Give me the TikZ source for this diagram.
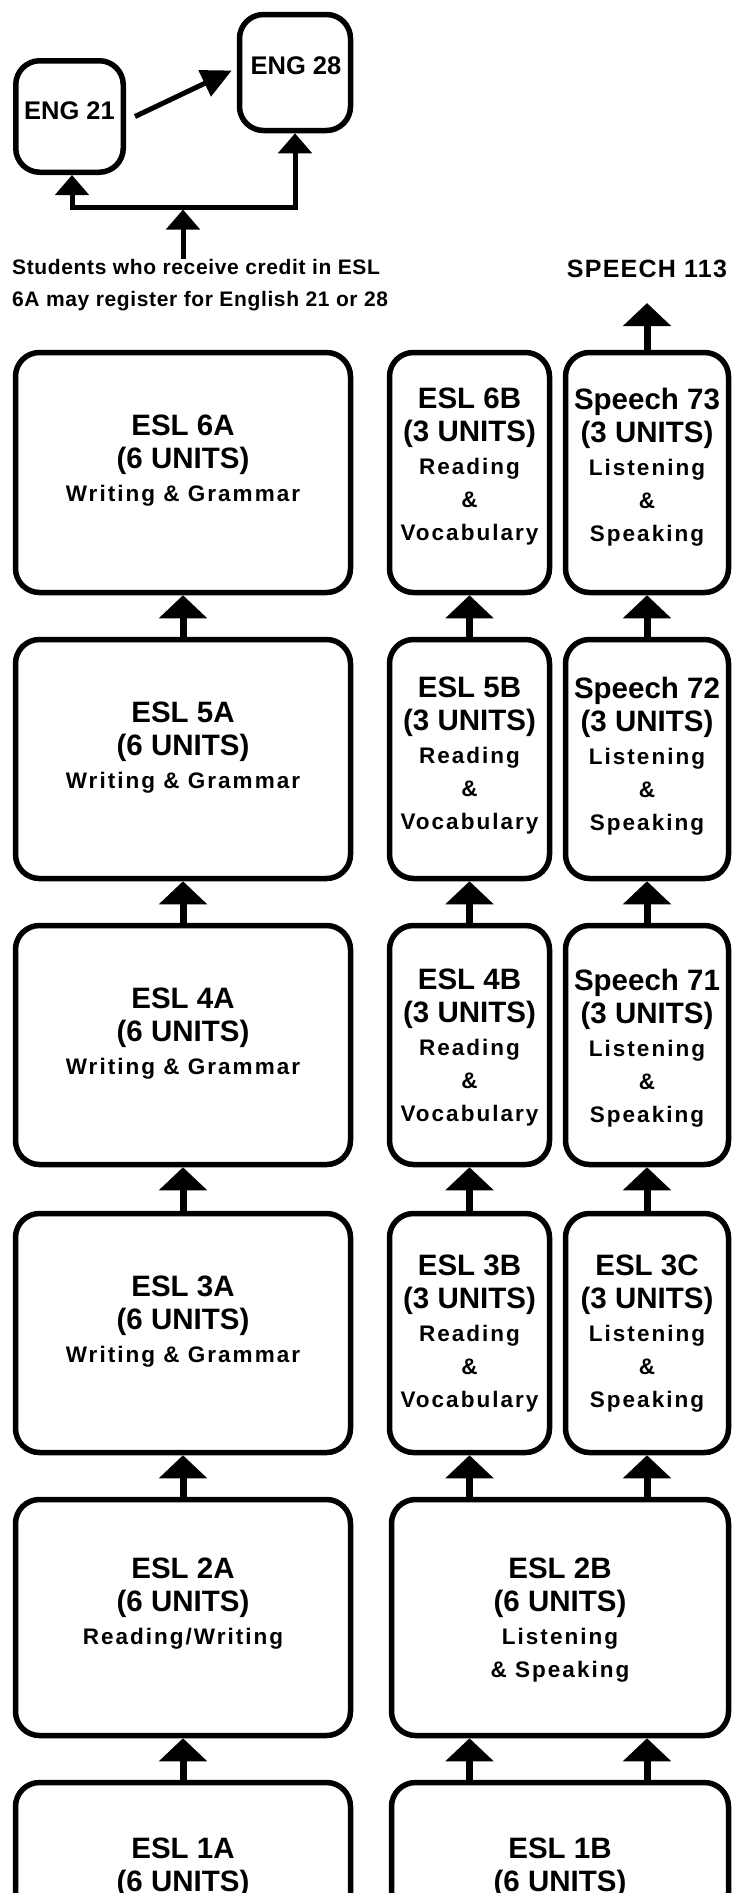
\documentclass[tikz,border=0pt]{standalone}
\usepackage{fontspec}
\setmainfont{Liberation Sans}
\newfontfamily\spacedfont{Liberation Sans}[LetterSpace=9]
\newfontfamily\notefont{Liberation Sans}[LetterSpace=3]
\newfontfamily\spkfont{Liberation Sans}[LetterSpace=5]
\usetikzlibrary{arrows.meta,calc}
\newcommand\ttlf{\rmfamily\fontsize{29.5}{33}\selectfont\bfseries}
\newcommand\subfnt{\spacedfont\fontsize{22.5}{33}\selectfont\bfseries}
\newcommand\engfnt{\rmfamily\fontsize{25.5}{30}\selectfont\bfseries}
\newcommand\notefnt{\notefont\fontsize{21}{32}\selectfont\bfseries}
\newcommand\spkfnt{\spkfont\fontsize{25}{30}\selectfont\bfseries}
\begin{document}
\begin{tikzpicture}[x=1pt,y=-1pt,
  box/.style={draw, line width=5.5pt, rounded corners=24pt, inner sep=0pt},
  lbl/.style={align=center, inner sep=0pt, font=\subfnt, anchor=north},
  up/.style={line width=7pt, -{Triangle[width=47pt,length=23pt]}},
  engup/.style={line width=5pt, -{Triangle[width=33pt,length=20pt]}},
  engarr/.style={line width=5pt, -{Triangle[width=28pt,length=30pt]}},
  bar/.style={line width=5pt, line join=miter, {Triangle[width=33pt,length=20pt]}-{Triangle[width=33pt,length=20pt]}}
]
\useasboundingbox (0,0) rectangle (734,1893);
\fill[white] (0,0) rectangle (734,1893);
\clip (0,0) rectangle (734,1893);

% ---- top: English courses
\node[box, minimum width=107.5pt, minimum height=111.5pt] (e21) at (69.5,116.5) {};
\node[font=\engfnt, inner sep=0pt] (e21t) at ([yshift=5.5pt]e21.center) {ENG 21};
\node[box, minimum width=111pt, minimum height=116pt] (e28) at (295,72.5) {};
\node[font=\engfnt, inner sep=0pt] (e28t) at ([xshift=1pt,yshift=6.5pt]e28.center) {ENG 28};
\draw[engarr] ([xshift=9pt]e21.east) -- ([xshift=-5pt,yshift=2pt]e28.west);

\coordinate (jl) at (72,207);
\coordinate (jr) at (295,207);
\coordinate (jm) at (183,207);
\draw[bar] (jl |- e21.south) -- (jl) -- (jr) -- (jr |- e28.south);

\node[font=\notefnt, align=left, inner sep=0pt, anchor=west] (note) at (12,285)
  {Students who receive credit in ESL\\6A may register for English 21 or 28};
\draw[engup] (jm |- note.north) -- ([yshift=-2.5pt]jm);

\node[font=\spkfnt, inner sep=0pt] (sp) at (647,269) {SPEECH 113};

% ---- boxes
% column A: x=183 w=335 ; B: x=469.5 w=160 ; C: x=647 w=163 ; wide B: x=560 w=337
\node[box, minimum width=335pt, minimum height=240pt] (a6) at (183,472.5) {};
\node[box, minimum width=160pt, minimum height=240pt] (b6) at (469.5,472.5) {};
\node[box, minimum width=163pt, minimum height=240pt] (c6) at (647,472.5) {};
\node[box, minimum width=335pt, minimum height=239pt] (a5) at (183,759) {};
\node[box, minimum width=160pt, minimum height=239pt] (b5) at (469.5,759) {};
\node[box, minimum width=163pt, minimum height=239pt] (c5) at (647,759) {};
\node[box, minimum width=335pt, minimum height=239pt] (a4) at (183,1045) {};
\node[box, minimum width=160pt, minimum height=239pt] (b4) at (469.5,1045) {};
\node[box, minimum width=163pt, minimum height=239pt] (c4) at (647,1045) {};
\node[box, minimum width=335pt, minimum height=239pt] (a3) at (183,1333) {};
\node[box, minimum width=160pt, minimum height=239pt] (b3) at (469.5,1333) {};
\node[box, minimum width=163pt, minimum height=239pt] (c3) at (647,1333) {};
\node[box, minimum width=335pt, minimum height=236pt] (a2) at (183,1617.5) {};
\node[box, minimum width=337pt, minimum height=236pt] (b2) at (560,1617.5) {};
\node[box, minimum width=335pt, minimum height=236pt] (a1) at (183,1900.5) {};
\node[box, minimum width=337pt, minimum height=236pt] (b1) at (560,1900.5) {};

% ---- labels
\node[lbl] (a6t) at ([yshift=-65pt]a6.north) {{\ttlf ESL 6A}\\{\ttlf (6 UNITS)}\\Writing \& Grammar};
\node[lbl] (b6t) at ([yshift=-38pt]b6.north) {{\ttlf ESL 6B}\\{\ttlf (3 UNITS)}\\Reading\\\&\\Vocabulary};
\node[lbl] (c6t) at ([yshift=-38pt]c6.north) {{\ttlf Speech 73}\\{\ttlf (3 UNITS)}\\Listening\\\&\\Speaking};
\node[lbl] (a5t) at ([yshift=-65pt]a5.north) {{\ttlf ESL 5A}\\{\ttlf (6 UNITS)}\\Writing \& Grammar};
\node[lbl] (b5t) at ([yshift=-40pt]b5.north) {{\ttlf ESL 5B}\\{\ttlf (3 UNITS)}\\Reading\\\&\\Vocabulary};
\node[lbl] (c5t) at ([yshift=-40pt]c5.north) {{\ttlf Speech 72}\\{\ttlf (3 UNITS)}\\Listening\\\&\\Speaking};
\node[lbl] (a4t) at ([yshift=-65pt]a4.north) {{\ttlf ESL 4A}\\{\ttlf (6 UNITS)}\\Writing \& Grammar};
\node[lbl] (b4t) at ([yshift=-46pt]b4.north) {{\ttlf ESL 4B}\\{\ttlf (3 UNITS)}\\Reading\\\&\\Vocabulary};
\node[lbl] (c4t) at ([yshift=-46pt]c4.north) {{\ttlf Speech 71}\\{\ttlf (3 UNITS)}\\Listening\\\&\\Speaking};
\node[lbl] (a3t) at ([yshift=-65pt]a3.north) {{\ttlf ESL 3A}\\{\ttlf (6 UNITS)}\\Writing \& Grammar};
\node[lbl] (b3t) at ([yshift=-44pt]b3.north) {{\ttlf ESL 3B}\\{\ttlf (3 UNITS)}\\Reading\\\&\\Vocabulary};
\node[lbl] (c3t) at ([yshift=-44pt]c3.north) {{\ttlf ESL 3C}\\{\ttlf (3 UNITS)}\\Listening\\\&\\Speaking};
\node[lbl] (a2t) at ([yshift=-61pt]a2.north) {{\ttlf ESL 2A}\\{\ttlf (6 UNITS)}\\Reading/Writing};
\node[lbl] (b2t) at ([yshift=-61pt]b2.north) {{\ttlf ESL 2B}\\{\ttlf (6 UNITS)}\\Listening\\\& Speaking};
\node[lbl] (a1t) at ([yshift=-58pt]a1.north) {{\ttlf ESL 1A}\\{\ttlf (6 UNITS)}};
\node[lbl] (b1t) at ([yshift=-58pt]b1.north) {{\ttlf ESL 1B}\\{\ttlf (6 UNITS)}};

% ---- connectors
\draw[up] (c6.north) -- ([yshift=-25pt]sp.south);
\draw[up] (a5.north) -- (a6.south);
\draw[up] (b5.north) -- (b6.south);
\draw[up] (c5.north) -- (c6.south);
\draw[up] (a4.north) -- (a5.south);
\draw[up] (b4.north) -- (b5.south);
\draw[up] (c4.north) -- (c5.south);
\draw[up] (a3.north) -- (a4.south);
\draw[up] (b3.north) -- (b4.south);
\draw[up] (c3.north) -- (c4.south);
\draw[up] (a2.north) -- (a3.south);
\draw[up] (b3.south |- b2.north) -- (b3.south);
\draw[up] (c3.south |- b2.north) -- (c3.south);
\draw[up] (a1.north) -- (a2.south);
\draw[up] (b3.south |- b1.north) -- (b3.south |- b2.south);
\draw[up] (c3.south |- b1.north) -- (c3.south |- b2.south);
\end{tikzpicture}
\end{document}
